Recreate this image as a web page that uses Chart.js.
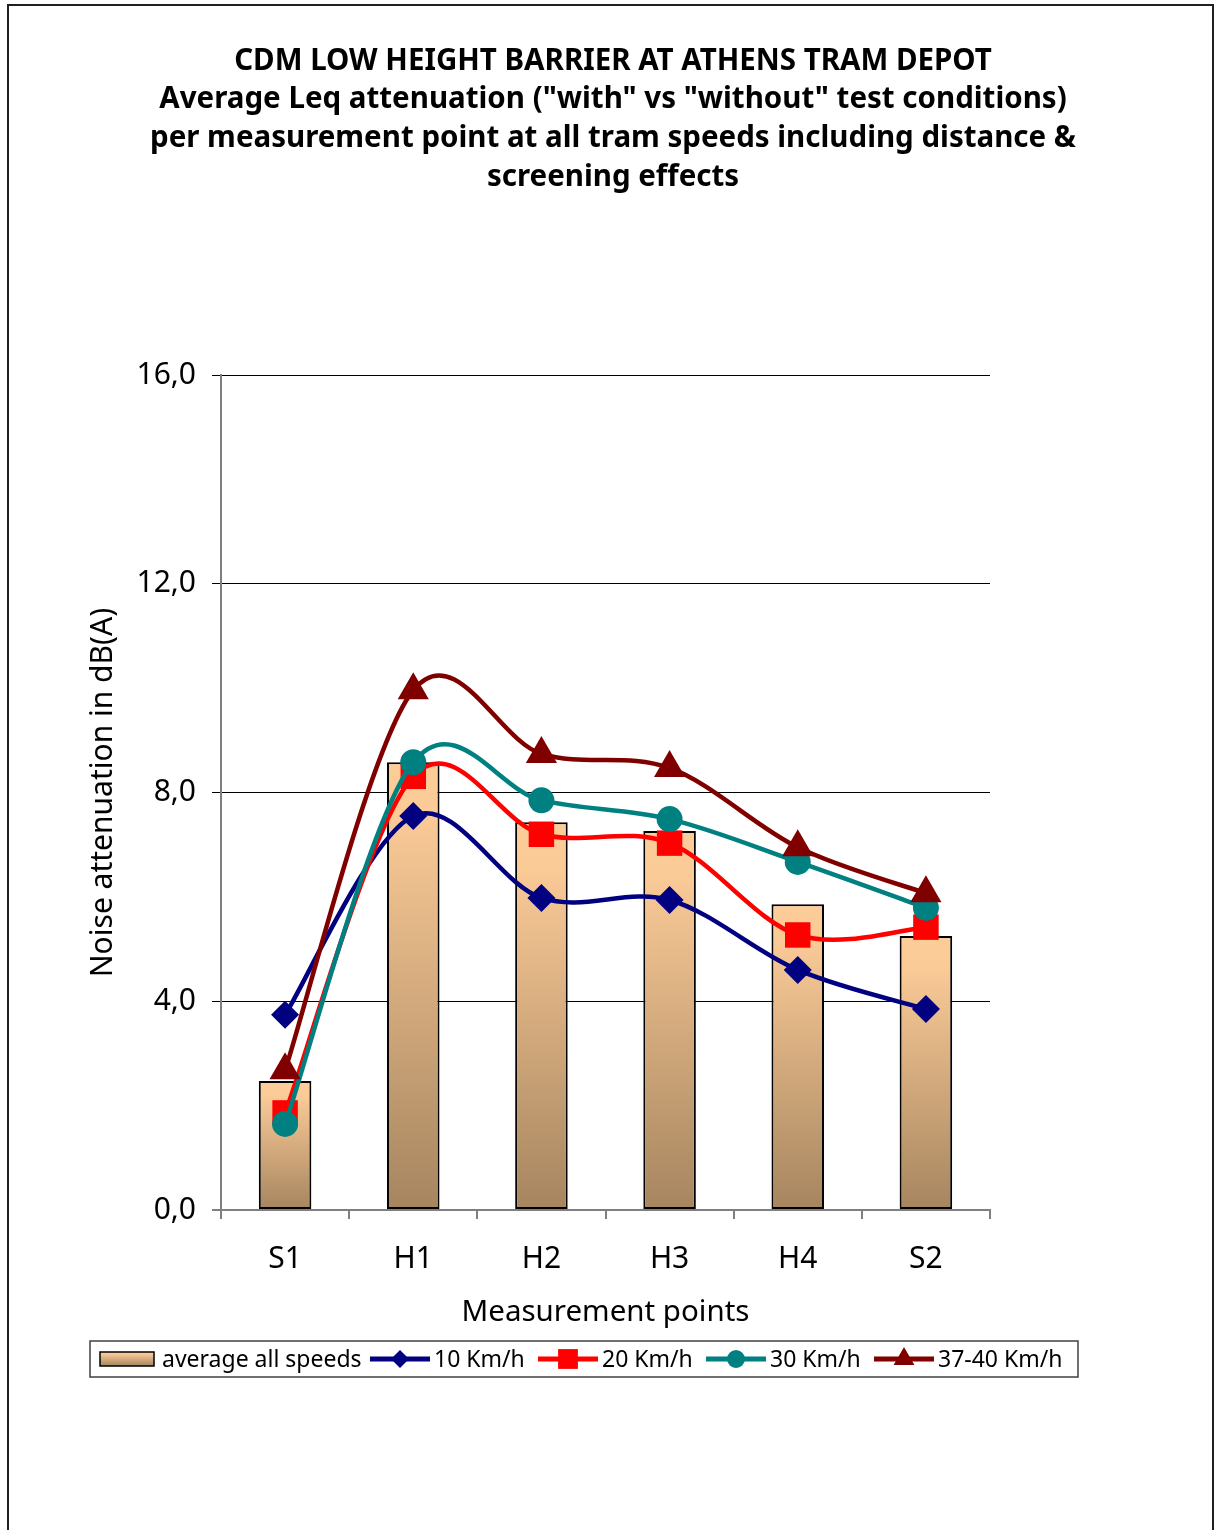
<!DOCTYPE html>
<html>
<head>
<meta charset="utf-8">
<title>CDM low height barrier – Athens tram depot</title>
<script src="https://cdn.jsdelivr.net/npm/chart.js@4/dist/chart.umd.min.js"></script>
<style>
  html, body { margin: 0; padding: 0; background: #ffffff; }
  #wrap { width: 1217px; height: 1530px; position: relative; }
  canvas { display: block; }
</style>
</head>
<body>
<div id="wrap"><canvas id="chart" width="1217" height="1530"></canvas></div>
<script>
// Measurement points along the barrier
const categories = ['S1', 'H1', 'H2', 'H3', 'H4', 'S2'];

// Average Leq attenuation in dB(A)
const averageAllSpeeds = [2.47, 8.58, 7.43, 7.26, 5.86, 5.25];
const speed10 = [3.74, 7.55, 5.98, 5.94, 4.60, 3.85];
const speed20 = [1.86, 8.31, 7.20, 7.03, 5.27, 5.42];
const speed30 = [1.65, 8.58, 7.85, 7.49, 6.67, 5.79];
const speed37to40 = [2.68, 9.96, 8.74, 8.47, 6.95, 6.07];

const seriesNames = ['average all speeds', '10 Km/h', '20 Km/h', '30 Km/h', '37-40 Km/h'];
const yTickValues = [0, 4, 8, 12, 16];

const titleLines = [
  'CDM LOW HEIGHT BARRIER AT ATHENS TRAM DEPOT',
  'Average Leq attenuation ("with" vs "without" test conditions)',
  'per measurement point at all tram speeds including distance &',
  'screening effects'
];
const yAxisTitle = 'Noise attenuation in dB(A)';
const xAxisTitle = 'Measurement points';

const FONT = '"Noto Sans", "Open Sans", sans-serif';

// Peach-to-brown vertical fill used for the average bars
function barGradient(ctx, top, bottom) {
  const g = ctx.createLinearGradient(0, top, 0, bottom);
  g.addColorStop(0, '#FCCC99');
  g.addColorStop(0.12, '#FACA97');
  g.addColorStop(1, '#A6855F');
  return g;
}

const lineSeries = [
  { label: seriesNames[1], data: speed10, color: '#000080', style: 'rectRot', radius: 14, order: 4 },
  { label: seriesNames[2], data: speed20, color: '#FF0000', style: 'rect', radius: 18, order: 3 },
  { label: seriesNames[3], data: speed30, color: '#008080', style: 'circle', radius: 13, order: 2 },
  { label: seriesNames[4], data: speed37to40, color: '#800000', style: 'triangle', radius: 18, order: 1 }
];

// Marker shapes for the legend
function drawMarker(ctx, style, x, y, r, color) {
  ctx.save();
  ctx.fillStyle = color;
  ctx.beginPath();
  if (style === 'rectRot') {
    ctx.moveTo(x, y - r); ctx.lineTo(x + r, y); ctx.lineTo(x, y + r); ctx.lineTo(x - r, y);
  } else if (style === 'rect') {
    const s = r * Math.SQRT1_2;
    ctx.rect(x - s, y - s, 2 * s, 2 * s);
  } else if (style === 'circle') {
    ctx.arc(x, y, r, 0, Math.PI * 2);
  } else if (style === 'triangle') {
    ctx.moveTo(x, y - r);
    ctx.lineTo(x + r * Math.sin(Math.PI / 3), y + r / 2);
    ctx.lineTo(x - r * Math.sin(Math.PI / 3), y + r / 2);
  }
  ctx.closePath();
  ctx.fill();
  ctx.restore();
}

// Uniform Catmull-Rom smoothing (control arms = neighbour chord / 6)
const smoothLinePlugin = {
  id: 'catmullRom',
  afterDatasetsUpdate(chart) {
    chart.data.datasets.forEach((ds, i) => {
      if (ds.type !== 'line') return;
      const meta = chart.getDatasetMeta(i);
      const pts = meta.data;
      const n = pts.length;
      for (let k = 0; k < n; k++) {
        const p = pts[k];
        const prev = pts[Math.max(k - 1, 0)];
        const next = pts[Math.min(k + 1, n - 1)];
        const dx = (next.x - prev.x) / 6;
        const dy = (next.y - prev.y) / 6;
        p.cp1x = p.x - dx; p.cp1y = p.y - dy;
        p.cp2x = p.x + dx; p.cp2y = p.y + dy;
      }
      if (meta.dataset) meta.dataset._pointsUpdated = true;
    });
  }
};

// Page frame and the four-line bold title
const framePlugin = {
  id: 'frameAndTitle',
  beforeDraw(chart) {
    const ctx = chart.ctx;
    ctx.save();
    ctx.fillStyle = '#ffffff';
    ctx.fillRect(0, 0, chart.width, chart.height);
    ctx.strokeStyle = '#202020';
    ctx.lineWidth = 2;
    ctx.strokeRect(8, 5, 1205, 1560);
    ctx.restore();
  },
  afterDraw(chart) {
    const ctx = chart.ctx;
    ctx.save();
    ctx.fillStyle = '#000000';
    ctx.font = 'bold 29.5px ' + FONT;
    ctx.textAlign = 'center';
    ctx.textBaseline = 'middle';
    const ys = [62, 100, 139, 178];
    titleLines.forEach((t, i) => ctx.fillText(t, 613, ys[i]));
    ctx.restore();
  }
};

// Boxed legend below the axis title
const legendPlugin = {
  id: 'boxLegend',
  afterDraw(chart) {
    const ctx = chart.ctx;
    const box = { x: 90, y: 1341, w: 988, h: 36 };
    const cy = box.y + box.h / 2;
    ctx.save();
    ctx.strokeStyle = '#404040';
    ctx.lineWidth = 1.5;
    ctx.strokeRect(box.x, box.y, box.w, box.h);

    ctx.font = '23px ' + FONT;
    ctx.textBaseline = 'middle';
    ctx.textAlign = 'left';

    // bar swatch
    ctx.fillStyle = barGradient(ctx, cy - 7, cy + 7);
    ctx.fillRect(100, cy - 7, 54, 14);
    ctx.strokeStyle = '#000000';
    ctx.lineWidth = 1.5;
    ctx.strokeRect(100, cy - 7, 54, 14);
    ctx.fillStyle = '#000000';
    ctx.fillText(seriesNames[0], 162, cy + 1);

    let x = 370;
    lineSeries.forEach(s => {
      ctx.strokeStyle = s.color;
      ctx.lineWidth = 5;
      ctx.beginPath();
      ctx.moveTo(x, cy);
      ctx.lineTo(x + 60, cy);
      ctx.stroke();
      const r = s.style === 'rect' ? 14 : s.style === 'triangle' ? 12 : 9;
      drawMarker(ctx, s.style, x + 30, cy, r, s.color);
      ctx.fillStyle = '#000000';
      ctx.fillText(s.label, x + 64, cy + 1);
      x += 168;
    });
    ctx.restore();
  }
};

const datasets = [
  {
    type: 'bar',
    label: seriesNames[0],
    data: averageAllSpeeds,
    order: 10,
    borderColor: '#000000',
    borderWidth: 2,
    borderSkipped: false,
    barPercentage: 0.41,
    categoryPercentage: 1.0,
    backgroundColor(context) {
      const chart = context.chart;
      if (!chart.chartArea || context.type !== 'data' || !chart.scales.y) return '#E0B07F';
      const ys = chart.scales.y;
      const top = ys.getPixelForValue(context.raw);
      const bottom = ys.getPixelForValue(0);
      return barGradient(chart.ctx, top, bottom);
    }
  },
  ...lineSeries.map(s => ({
    type: 'line',
    label: s.label,
    data: s.data,
    order: s.order,
    borderColor: s.color,
    backgroundColor: s.color,
    borderWidth: 4.5,
    tension: 0.5,
    fill: false,
    pointStyle: s.style,
    pointRadius: s.radius,
    pointBorderWidth: 0,
    pointBackgroundColor: s.color,
    pointBorderColor: s.color
  }))
];

new Chart(document.getElementById('chart'), {
  type: 'bar',
  data: { labels: categories, datasets },
  plugins: [framePlugin, smoothLinePlugin, legendPlugin],
  options: {
    responsive: false,
    animation: false,
    devicePixelRatio: 1,
    layout: { padding: { left: 70, right: 227, top: 375, bottom: 190 } },
    plugins: {
      legend: { display: false },
      title: { display: false },
      tooltip: { enabled: false }
    },
    scales: {
      x: {
        offset: true,
        afterFit(scale) { scale.height = 130; },
        grid: {
          offset: true,
          drawOnChartArea: false,
          drawTicks: true,
          tickLength: 9,
          color: '#808080',
          lineWidth: 2
        },
        border: { display: true, color: '#808080', width: 2 },
        ticks: {
          color: '#000000',
          font: { family: FONT, size: 30 },
          padding: 22,
          maxRotation: 0
        },
        title: {
          display: true,
          text: xAxisTitle,
          color: '#000000',
          font: { family: FONT, size: 29.5 },
          padding: { top: 0, bottom: 10 }
        }
      },
      y: {
        min: 0,
        max: 16,
        afterFit(scale) { scale.width = 151; },
        afterBuildTicks(scale) { scale.ticks = yTickValues.map(v => ({ value: v })); },
        grid: {
          drawTicks: true,
          tickLength: 9,
          color(ctx) { return ctx.tick && ctx.tick.value === 0 ? '#808080' : '#000000'; },
          lineWidth(ctx) { return ctx.tick && ctx.tick.value === 0 ? 2 : 1; }
        },
        border: { display: true, color: '#808080', width: 2 },
        ticks: {
          color: '#000000',
          font: { family: FONT, size: 30 },
          padding: 16,
          callback(v) { return Number(v).toFixed(1).replace('.', ','); }
        },
        title: {
          display: true,
          text: yAxisTitle,
          color: '#000000',
          font: { family: FONT, size: 30 },
          padding: { top: 15, bottom: 0 }
        }
      }
    }
  }
});
</script>
</body>
</html>
